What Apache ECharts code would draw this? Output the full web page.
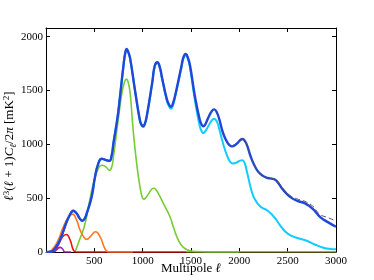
<!DOCTYPE html>
<html><head><meta charset="utf-8">
<script src="https://cdn.jsdelivr.net/npm/echarts@6/dist/echarts.min.js"></script>
<style>html,body{margin:0;padding:0;background:#fff}#c{width:374px;height:280px}</style>
</head><body><div id="c"></div>
<script>
// ---- data ----
const totalL = [2,50,93,145,214,250,265,283,300,320,350,375,400,421,472,507,541,576,615,655,680,697,740,765,800,820,835,850,870,921,972,990,1005,1020,1040,1100,1125,1152,1178,1200,1250,1275,1292,1310,1340,1400,1422,1445,1468,1490,1540,1590,1612,1627,1645,1680,1715,1740,1765,1790,1834,1880,1910,1927,1950,1980,2010,2034,2058,2080,2120,2170,2214,2280,2334,2380,2450,2524,2600,2680,2760,2834,2920,3000];
const totalV = [0,3,34,111,281,350,373,383,374,355,310,290,310,358,512,697,821,866,855,845,900,1006,1250,1438,1720,1850,1885,1860,1800,1500,1222,1180,1167,1185,1250,1580,1730,1762,1715,1620,1420,1365,1348,1370,1470,1720,1810,1838,1805,1731,1450,1230,1180,1167,1180,1250,1308,1324,1300,1240,1098,1010,985,981,990,1010,1040,1049,1030,990,880,780,728,690,682,665,580,512,475,451,400,327,275,234];

const cyanL = [2,50,93,145,214,250,265,283,300,320,350,375,400,421,472,507,541,576,615,655,680,697,740,765,800,820,835,850,870,921,972,990,1005,1020,1040,1100,1125,1152,1178,1200,1250,1275,1292,1310,1340,1400,1422,1445,1468,1490,1540,1590,1612,1627,1645,1680,1715,1740,1765,1790,1834,1880,1910,1930,1955,1980,2008,2031,2055,2080,2120,2160,2220,2290,2360,2420,2480,2541,2620,2697,2780,2869,2940,3000];
const cyanV = [0,3,34,111,281,350,373,383,374,355,310,290,310,358,512,697,821,866,855,845,900,1006,1250,1438,1720,1845,1880,1855,1795,1495,1215,1172,1160,1178,1245,1575,1722,1755,1705,1610,1405,1350,1330,1352,1455,1705,1797,1825,1790,1710,1410,1170,1118,1105,1118,1170,1222,1238,1215,1150,1000,880,832,822,826,835,848,852,825,740,590,490,420,385,325,250,185,150,125,105,70,40,28,25];

const dashL = [2000,2034,2080,2120,2170,2214,2280,2334,2380,2450,2524,2600,2680,2760,2834,2920,3000];
const dashV = [1030,1049,990,880,780,728,690,682,668,592,525,492,470,425,350,318,287];

const greenL = [300,350,400,450,500,550,580,620,655,680,697,750,790,815,831,847,870,900,938,972,995,1010,1030,1060,1095,1117,1140,1170,1214,1283,1317,1369,1421,1490,1560,1700,2000];
const greenV = [0,120,250,470,670,790,806,790,759,790,880,1250,1500,1585,1605,1585,1480,1150,821,605,510,491,500,540,585,592,575,530,451,327,234,111,43,12,4,0,0];

const orangeL = [2,59,120,179,230,276,315,352,390,421,460,514,560,600,628,660,900];
const orangeV = [0,18,100,234,320,352,300,204,140,117,145,188,140,50,9,0,0];

const redL = [2,80,128,170,210,250,283,310,1450];
const redV = [0,10,65,140,162,110,18,0,0];

const purpleL = [2,75,93,120,145,170,197,260];
const purpleV = [0,0,5,30,43,30,0,0];

const oliveL = [1450,3000];
const oliveV = [0,0];

const xTicks = [500,1000,1500,2000,2500,3000];
const yTicks = [0,500,1000,1500,2000];

const xTitle = '{n|Multipole }{i|ℓ}';
const yTitle = '{i|ℓ}{sp|3}{t|(}{i|ℓ}{t| + 1)}{i|C}{sb|ℓ}{t|/2}{i|π}{t| [mK}{sp|2}{t|]}';

// ---- chart ----
const pair = (xs, ys) => xs.map((x, i) => [x, ys[i]]);
const font = 'Liberation Serif';
function line(name, xs, ys, color, width, extra) {
  return Object.assign({
    name, type: 'line', data: pair(xs, ys), showSymbol: false, smooth: 0.5,
    lineStyle: { color, width }, itemStyle: { color }, silent: true, animation: false
  }, extra || {});
}
const richStyles = {
  n: { fontFamily: font, fontSize: 13, fill: '#000', color: '#000' },
  t: { fontFamily: font, fontSize: 13, fill: '#000', color: '#000', lineHeight: 16 },
  i: { fontFamily: font, fontSize: 13, fontStyle: 'italic', fill: '#000', color: '#000', lineHeight: 16 },
  sp: { fontFamily: font, fontSize: 9, fill: '#000', color: '#000', verticalAlign: 'top', lineHeight: 16 },
  sb: { fontFamily: font, fontSize: 9, fontStyle: 'italic', fill: '#000', color: '#000', verticalAlign: 'bottom', lineHeight: 16 }
};
const chart = echarts.init(document.getElementById('c'), null, { renderer: 'canvas' });
const axisCommon = {
  axisLine: { show: true, onZero: false, lineStyle: { color: '#000', width: 1 } },
  axisTick: { show: true, inside: true, length: 4, lineStyle: { color: '#000' } },
  splitLine: { show: false }
};
const fmt = v => String(v);
chart.setOption({
  animation: false,
  grid: { left: 46, right: 38, top: 28, bottom: 28, containLabel: false, outerBoundsMode: 'none' },
  graphic: [
    { type: 'text', x: 191, y: 269, silent: true,
      style: { text: xTitle, rich: richStyles, align: 'center', verticalAlign: 'middle', font: '13px "Liberation Serif"', fill: '#000' } },
    { type: 'text', x: 10, y: 146, rotation: Math.PI / 2, silent: true,
      style: { text: yTitle, rich: richStyles, align: 'center', verticalAlign: 'middle', font: '13px "Liberation Serif"', fill: '#000' } }
  ],
  xAxis: [
    Object.assign({}, axisCommon, {
      type: 'value', min: 0, max: 3000, interval: 500, position: 'bottom',
      axisLabel: { customValues: xTicks, formatter: fmt, color: '#000', fontFamily: font, fontSize: 11, margin: 4 },
      axisTick: Object.assign({}, axisCommon.axisTick, { customValues: [0].concat(xTicks) })
    }),
    Object.assign({}, axisCommon, {
      type: 'value', min: 0, max: 3000, interval: 500, position: 'top',
      axisLabel: { show: false },
      axisTick: Object.assign({}, axisCommon.axisTick, { customValues: [0].concat(xTicks) })
    })
  ],
  yAxis: [
    Object.assign({}, axisCommon, {
      type: 'value', min: 0, max: 2080, interval: 500, position: 'left',
      axisLabel: { customValues: yTicks, formatter: fmt, color: '#000', fontFamily: font, fontSize: 11, margin: 3 },
      axisTick: Object.assign({}, axisCommon.axisTick, { customValues: yTicks })
    }),
    Object.assign({}, axisCommon, {
      type: 'value', min: 0, max: 2080, interval: 500, position: 'right',
      axisLabel: { show: false },
      axisTick: Object.assign({}, axisCommon.axisTick, { customValues: yTicks })
    })
  ],
  series: [
    line('olive', oliveL, oliveV, '#8a8a10', 1.6),
    line('green', greenL, greenV, '#77cc33', 1.6),
    line('red', redL, redV, '#ee1111', 1.6),
    line('purple', purpleL, purpleV, '#9922bb', 1.6),
    line('orange', orangeL, orangeV, '#ff7722', 1.6),
    line('cyan', cyanL, cyanV, '#11ccff', 2),
    line('total', totalL, totalV, '#2146d8', 2.4),
    line('dashed', dashL, dashV, '#555555', 1, { lineStyle: { color: '#555555', width: 1, type: [5, 3] } })
  ]
});
</script></body></html>
